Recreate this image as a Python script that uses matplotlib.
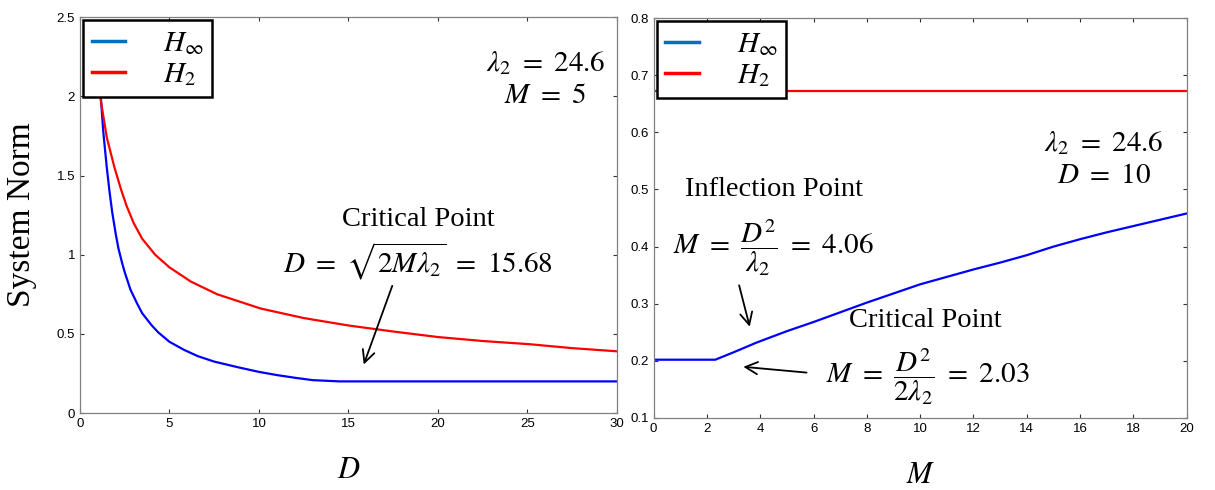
import matplotlib.pyplot as plt
from matplotlib.lines import Line2D

# left panel: norm vs D (lambda2 = 24.6, M = 5)
D_inf = [1.0, 1.08, 1.17, 1.3, 1.5, 1.65, 1.8, 2.0, 2.15, 2.35, 2.5, 2.82, 3.2, 3.48,
         4.0, 4.37, 5.0, 5.8, 6.57, 7.5, 8.8, 10, 11, 12, 13, 14.5, 20, 25, 30]
H_inf = [2.35, 2.15, 1.99, 1.78, 1.55, 1.40, 1.27, 1.13, 1.04, 0.95, 0.89, 0.78, 0.69,
         0.63, 0.555, 0.51, 0.45, 0.40, 0.36, 0.325, 0.29, 0.26, 0.24, 0.223, 0.208,
         0.20, 0.20, 0.20, 0.20]
D_2 = [1.0, 1.17, 1.5, 1.93, 2.3, 2.6, 3.0, 3.48, 4.2, 5.0, 6.2, 7.67, 10.1, 12.5, 15,
       17.5, 20, 22.5, 25.1, 27.5, 30]
H_2 = [2.15, 1.97, 1.74, 1.55, 1.41, 1.31, 1.20, 1.10, 1.00, 0.92, 0.83, 0.75, 0.66,
       0.60, 0.553, 0.515, 0.48, 0.455, 0.435, 0.41, 0.39]

# right panel: norm vs M (lambda2 = 24.6, D = 10)
M_inf = [0, 2.31, 3.0, 3.86, 5.0, 6, 7, 8, 9, 10, 11, 12, 13, 14, 15, 16, 17, 18, 19, 20]
H_inf_M = [0.202, 0.202, 0.215, 0.232, 0.252, 0.268, 0.285, 0.302, 0.318, 0.334, 0.347,
           0.360, 0.372, 0.385, 0.400, 0.413, 0.425, 0.436, 0.447, 0.458]
M_2 = [0, 20]
H_2_M = [0.672, 0.672]

plt.rcParams['mathtext.fontset'] = 'stix'
plt.rcParams['font.family'] = 'Liberation Sans'

fig = plt.figure(figsize=(12.15, 4.9), dpi=100)
ax1 = fig.add_axes([0.0658, 0.157, 0.442, 0.808])
ax2 = fig.add_axes([0.538, 0.147, 0.4387, 0.816])

serif = 'Liberation Serif'
mfs = 21


def style(ax):
    for s in ax.spines.values():
        s.set_color('#808080')
        s.set_linewidth(0.9)
    ax.tick_params(direction='in', length=3, width=0.8, labelsize=9.5,
                   top=True, right=True, color='#333333')


def add_legend(ax):
    handles = [Line2D([], [], color='#0070C0', lw=2.5),
               Line2D([], [], color='#FF0000', lw=2.5)]
    leg = ax.legend(handles, [r'$H_\infty$', r'$H_2$'], loc='upper left',
                    bbox_to_anchor=(0.0, 1.0), fontsize=21, fancybox=False,
                    framealpha=1, edgecolor='black', handlelength=1.15,
                    handletextpad=1.3, borderpad=0.3, labelspacing=0.12,
                    borderaxespad=0.1)
    leg.get_frame().set_linewidth(1.8)


# left
ax1.plot(D_inf, H_inf, color='#0000FF', lw=1.6)
ax1.plot(D_2, H_2, color='#FF0000', lw=1.6)
ax1.set_xlim(0, 30)
ax1.set_ylim(0, 2.5)
ax1.set_xticks([0, 5, 10, 15, 20, 25, 30])
ax1.set_yticks([0, 0.5, 1, 1.5, 2, 2.5])
ax1.set_yticklabels(['0', '0.5', '1', '1.5', '2', '2.5'])
style(ax1)
add_legend(ax1)
ax1.set_xlabel(r'$D$', fontsize=22, labelpad=18)
ax1.set_ylabel('System Norm', family=serif, fontsize=24, labelpad=14)
ax1.text(26.0, 2.11, r'$\lambda_2\ =\ 24.6$' + '\n' + r'$M\ =\ 5$', fontsize=mfs,
         ha='center', va='center', linespacing=1.15)
ax1.text(18.9, 1.225, 'Critical Point', family=serif, fontsize=20.5, ha='center',
         va='center')
ax1.text(18.9, 0.96, r'$D\ =\ \sqrt{2M\lambda_2}\ =\ 15.68$', fontsize=mfs,
         ha='center', va='center')
ax1.annotate('', xy=(15.8, 0.29), xytext=(17.5, 0.82),
             arrowprops=dict(arrowstyle='->', color='black', lw=1.3,
                             mutation_scale=22))

# right
ax2.plot(M_inf, H_inf_M, color='#0000FF', lw=1.6)
ax2.plot(M_2, H_2_M, color='#FF0000', lw=1.6)
ax2.set_xlim(0, 20)
ax2.set_ylim(0.1, 0.8)
ax2.set_xticks(range(0, 21, 2))
ax2.set_yticks([0.1, 0.2, 0.3, 0.4, 0.5, 0.6, 0.7, 0.8])
style(ax2)
add_legend(ax2)
ax2.set_xlabel(r'$M$', fontsize=22, labelpad=18)
ax2.text(16.9, 0.553, r'$\lambda_2\ =\ 24.6$' + '\n' + r'$D\ =\ 10$', fontsize=mfs,
         ha='center', va='center', linespacing=1.15)
ax2.text(4.5, 0.50, 'Inflection Point', family=serif, fontsize=20.5, ha='center',
         va='center')
ax2.text(4.5, 0.398, r'$M\ =\ \dfrac{D^2}{\lambda_2}\ =\ 4.06$', fontsize=mfs,
         ha='center', va='center')
ax2.text(10.2, 0.27, 'Critical Point', family=serif, fontsize=20.5, ha='center',
         va='center')
ax2.text(10.3, 0.172, r'$M\ =\ \dfrac{D^2}{2\lambda_2}\ =\ 2.03$', fontsize=mfs,
         ha='center', va='center')
ax2.annotate('', xy=(3.63, 0.255), xytext=(3.18, 0.337),
             arrowprops=dict(arrowstyle='->', color='black', lw=1.3, mutation_scale=22))
ax2.annotate('', xy=(3.26, 0.19), xytext=(5.84, 0.179),
             arrowprops=dict(arrowstyle='->', color='black', lw=1.3, mutation_scale=22))

fig.savefig('out.png', dpi=100)
